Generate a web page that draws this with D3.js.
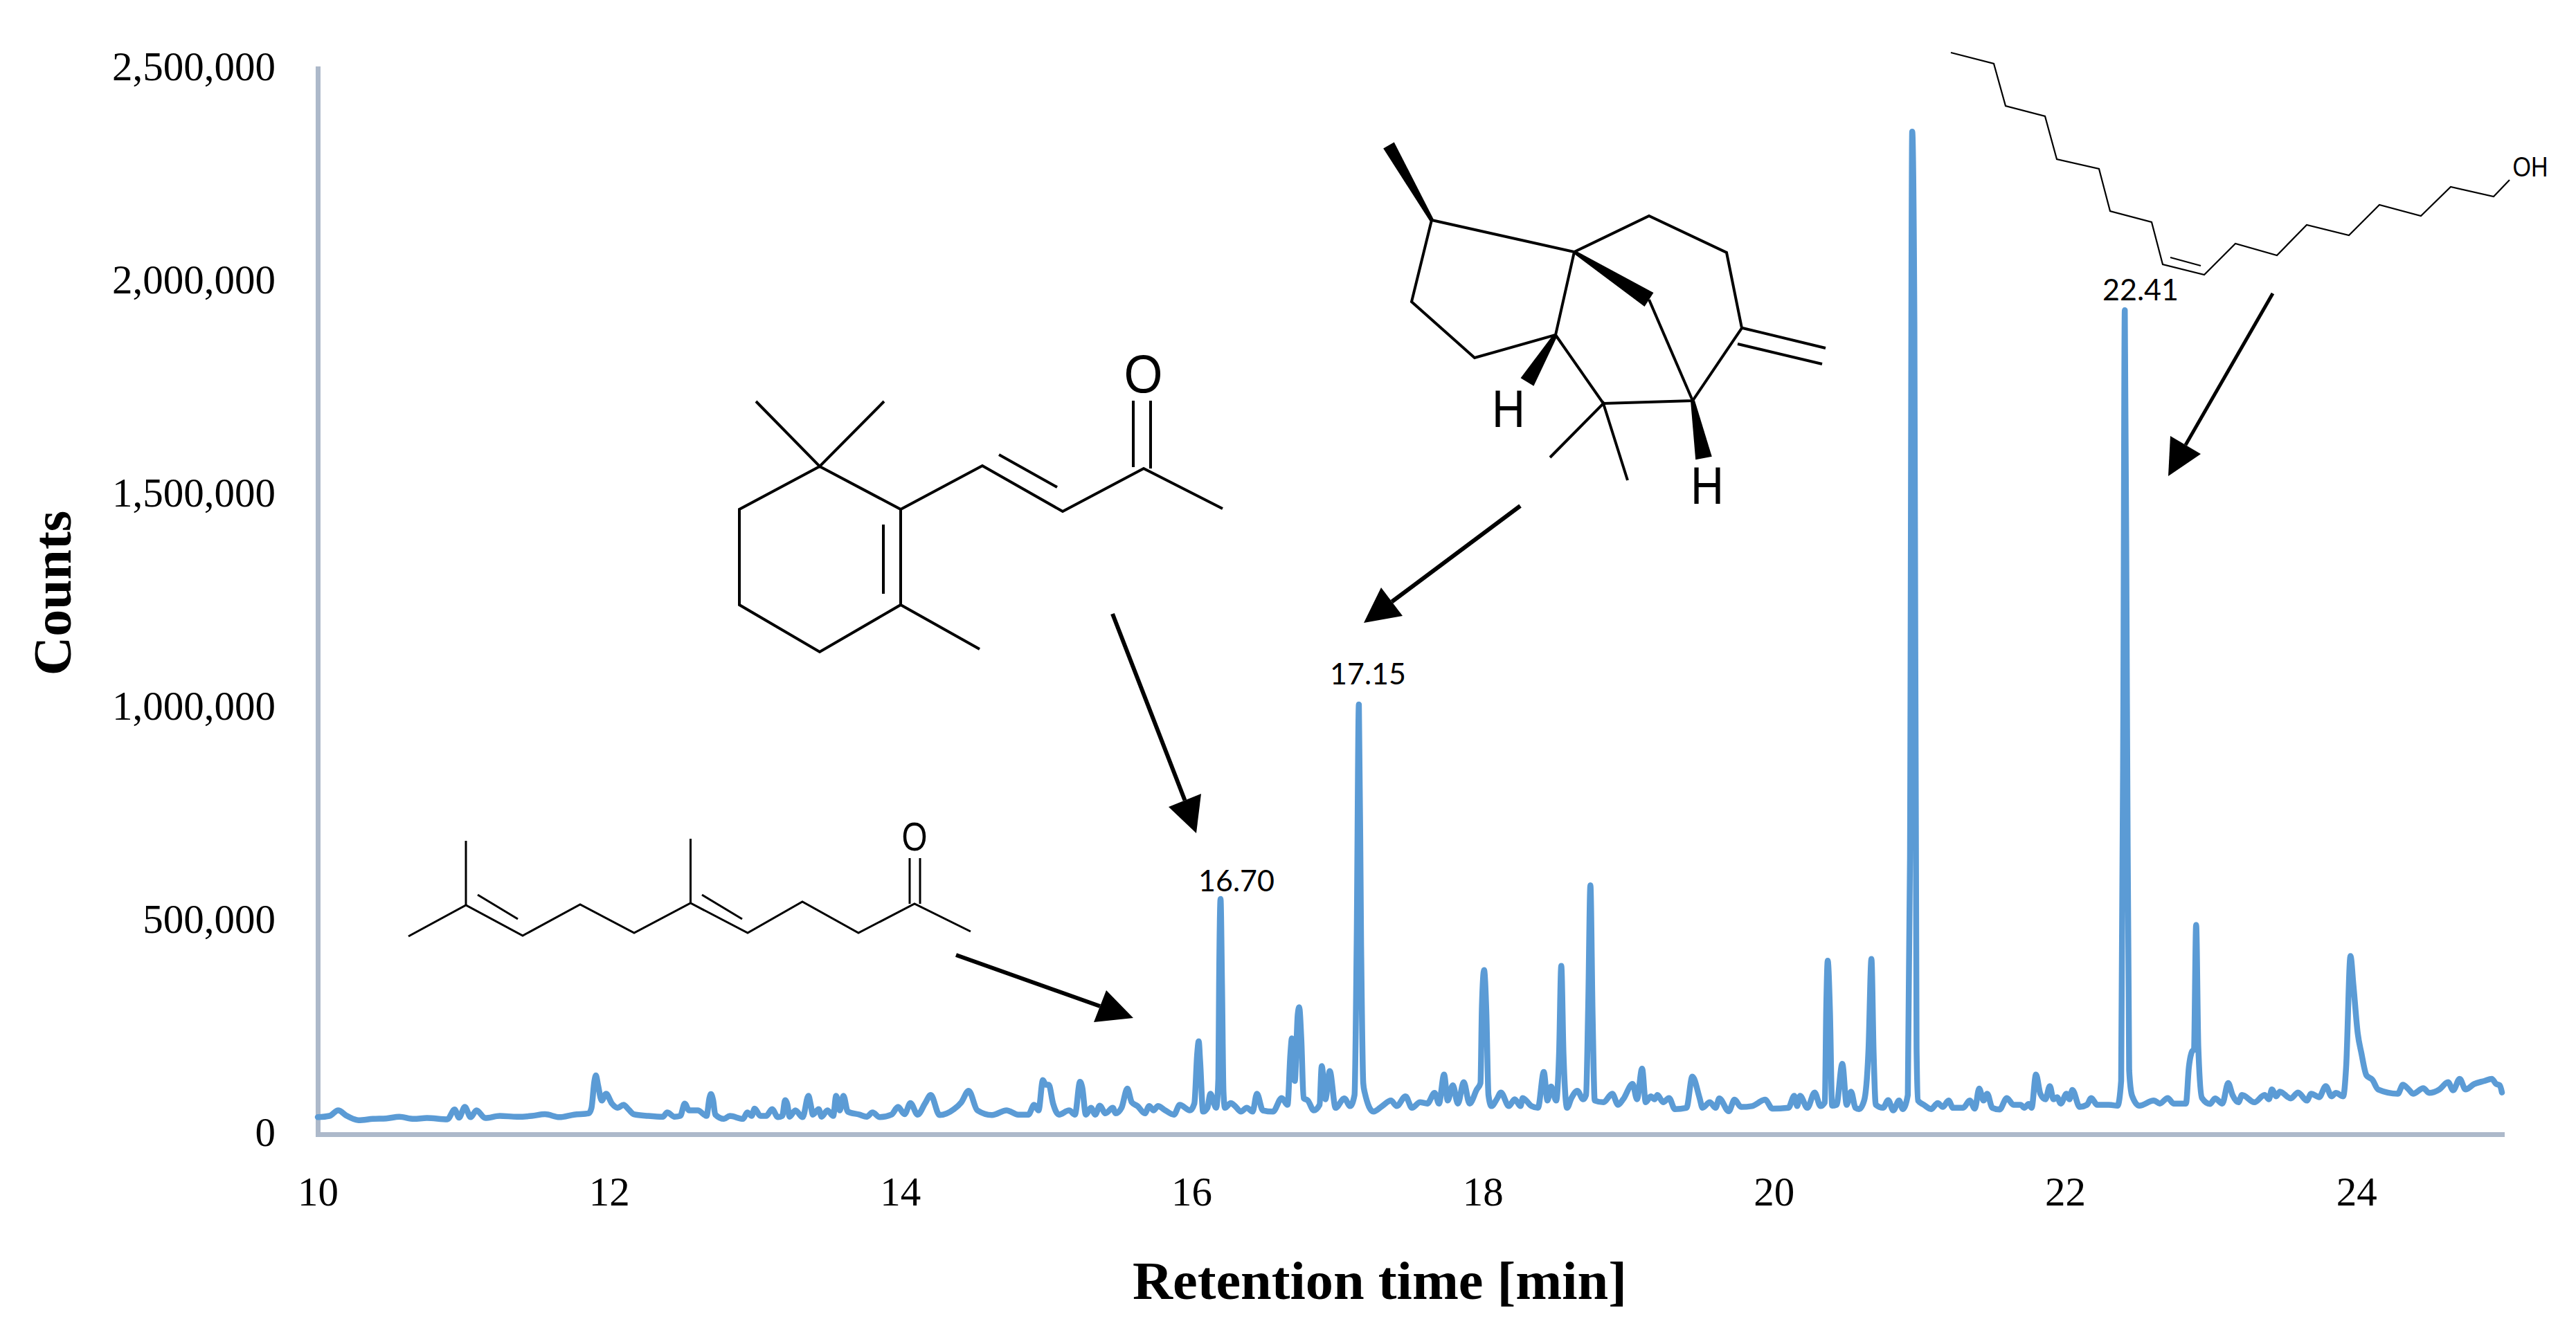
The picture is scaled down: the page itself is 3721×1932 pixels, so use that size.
<!DOCTYPE html>
<html>
<head>
<meta charset="utf-8">
<title>Chromatogram</title>
<script src="https://cdn.jsdelivr.net/npm/d3@7/dist/d3.min.js"></script>
<style>
html,body{margin:0;padding:0;background:#fff}
svg{display:block}
</style>
</head>
<body>
<svg id="chart" width="3721" height="1932"></svg>
<script>
// ---- data: [retention time in min, counts] ----
const chromatogram = [
[10.0,40000],[10.08,43000],[10.14,56000],[10.2,43000],[10.28,33000],[10.38,36000],[10.47,37000],[10.56,41000],[10.66,36000],[10.75,38000],[10.89,35000],
[10.94,58000],[10.97,39000],[11.01,64000],[11.05,40000],[11.09,56000],[11.15,38000],[11.25,43000],[11.37,41000],[11.47,43000],[11.56,47000],[11.66,40000],[11.76,46000],[11.86,49000],[11.88,62000],
[11.9,125000],[11.91,138000],[11.925,115000],[11.95,79000],[11.98,95000],[12.02,72000],[12.06,62000],[12.1,69000],[12.13,60000],[12.17,47000],[12.27,43000],[12.37,41000],[12.4,51000],[12.45,41000],[12.49,43000],
[12.52,72000],[12.55,56000],[12.61,56000],[12.67,43000],[12.69,85000],[12.70,94000],[12.715,80000],[12.73,46000],[12.79,36000],[12.83,43000],[12.92,36000],[12.95,51000],[12.98,43000],[13.0,60000],[13.04,43000],[13.08,43000],
[13.12,59000],[13.16,40000],[13.19,43000],[13.21,80000],[13.225,70000],[13.24,41000],[13.28,56000],[13.33,40000],[13.37,90000],[13.385,70000],[13.4,46000],[13.44,59000],[13.46,41000],[13.5,56000],[13.54,43000],
[13.56,90000],[13.585,56000],[13.61,90000],[13.64,53000],[13.72,46000],[13.77,41000],[13.81,51000],[13.86,40000],[13.94,46000],[13.985,64000],[14.03,47000],[14.07,73000],[14.12,46000],[14.17,72000],[14.21,92000],[14.27,45000],
[14.37,59000],[14.42,75000],[14.47,102000],[14.53,56000],[14.63,45000],[14.73,56000],[14.81,46000],[14.88,46000],[14.92,69000],[14.95,56000],[14.98,127000],[15.0,116000],[15.02,116000],[15.05,72000],[15.09,46000],
[15.16,56000],[15.2,46000],[15.235,123000],[15.25,110000],[15.275,46000],[15.31,62000],[15.34,46000],[15.37,67000],[15.41,49000],[15.46,62000],[15.48,49000],[15.52,62000],[15.56,107000],[15.59,75000],[15.63,66000],
[15.68,49000],[15.71,66000],[15.74,56000],[15.77,66000],[15.82,56000],[15.88,46000],[15.92,69000],[15.99,56000],[16.02,72000],[16.04,190000],[16.05,218000],[16.06,170000],[16.08,53000],[16.11,62000],[16.13,95000],[16.17,62000],
[16.185,130000],[16.19,350000],[16.2,552000],[16.21,350000],[16.22,100000],[16.23,62000],[16.27,73000],[16.3,66000],[16.34,53000],[16.38,62000],[16.42,53000],[16.45,95000],[16.49,56000],[16.56,53000],
[16.62,85000],[16.66,69000],[16.68,190000],[16.69,225000],[16.71,125000],[16.73,280000],[16.74,298000],[16.755,220000],[16.77,85000],[16.8,79000],[16.84,56000],[16.88,69000],[16.895,160000],[16.92,82000],[16.95,148000],[16.99,62000],
[17.05,84000],[17.09,66000],[17.12,92000],[17.135,450000],[17.15,1008000],[17.165,450000],[17.18,120000],[17.19,98000],[17.25,53000],[17.31,66000],[17.37,79000],[17.41,66000],[17.47,89000],[17.515,62000],[17.57,75000],[17.62,72000],
[17.67,97000],[17.7,72000],[17.735,140000],[17.76,79000],[17.795,115000],[17.83,72000],[17.87,122000],[17.91,72000],[17.96,105000],[17.985,120000],[17.995,300000],[18.01,385000],[18.025,290000],[18.04,92000],[18.06,66000],
[18.1,84000],[18.125,98000],[18.18,66000],[18.22,82000],[18.26,66000],[18.275,85000],[18.335,66000],[18.38,62000],[18.42,146000],[18.445,79000],[18.47,112000],[18.505,79000],[18.525,190000],[18.54,395000],[18.555,190000],[18.58,62000],
[18.61,85000],[18.65,102000],[18.69,82000],[18.71,92000],[18.725,300000],[18.74,584000],[18.755,280000],[18.77,79000],[18.83,75000],[18.89,95000],[18.93,69000],[18.965,82000],[19.03,118000],[19.06,82000],[19.095,154000],[19.12,75000],
[19.155,89000],[19.18,82000],[19.2,92000],[19.24,75000],[19.28,85000],[19.32,59000],[19.4,62000],[19.44,135000],[19.49,85000],[19.51,62000],[19.56,75000],[19.6,62000],[19.625,84000],[19.69,54000],[19.73,81000],[19.775,64000],
[19.85,66000],[19.94,81000],[19.99,60000],[20.1,62000],[20.14,90000],[20.16,66000],[20.18,90000],[20.23,62000],[20.28,98000],[20.32,66000],[20.35,75000],[20.36,300000],[20.37,407000],[20.385,290000],[20.4,67000],[20.43,69000],
[20.47,165000],[20.5,69000],[20.53,100000],[20.56,62000],[20.585,59000],[20.62,79000],[20.65,200000],[20.67,411000],[20.685,190000],[20.7,69000],[20.75,62000],[20.785,80000],[20.82,56000],[20.86,79000],[20.885,59000],[20.92,92000],
[20.935,650000],[20.95,2352000],[20.965,1900000],[20.98,200000],[20.99,79000],[21.03,69000],[21.08,59000],[21.125,73000],[21.16,64000],[21.2,79000],[21.23,62000],[21.3,62000],[21.345,79000],[21.38,60000],[21.41,107000],[21.44,79000],
[21.465,95000],[21.5,62000],[21.55,58000],[21.6,85000],[21.645,69000],[21.695,69000],[21.72,62000],[21.75,71000],[21.77,62000],[21.8,140000],[21.83,95000],[21.865,82000],[21.895,113000],[21.92,82000],[21.945,87000],[21.97,72000],
[22.01,95000],[22.03,82000],[22.05,104000],[22.1,64000],[22.15,69000],[22.18,85000],[22.22,69000],[22.3,69000],[22.36,67000],[22.385,125000],[22.4,1000000],[22.41,1933000],[22.425,1000000],[22.44,150000],[22.46,90000],[22.51,67000],
[22.61,79000],[22.65,72000],[22.705,85000],[22.745,72000],[22.83,72000],[22.85,157000],[22.87,193000],[22.885,200000],[22.9,491000],[22.915,203000],[22.94,85000],[22.995,71000],[23.03,84000],[23.08,72000],[23.12,120000],[23.15,92000],
[23.19,75000],[23.215,92000],[23.3,75000],[23.37,92000],[23.4,82000],[23.42,105000],[23.45,89000],[23.475,100000],[23.55,84000],[23.6,98000],[23.66,79000],[23.69,95000],[23.745,87000],[23.79,113000],[23.83,89000],[23.86,97000],
[23.91,89000],[23.93,157000],[23.96,418000],[23.98,350000],[24.01,236000],[24.035,190000],[24.07,138000],[24.11,128000],[24.15,105000],[24.285,95000],[24.32,116000],[24.36,105000],[24.39,95000],[24.46,108000],[24.5,97000],
[24.57,105000],[24.63,122000],[24.665,103000],[24.71,130000],[24.75,105000],[24.81,118000],[24.88,125000],[24.93,130000],[24.96,118000],[24.985,115000],[25.0,98000]
];
const xTicks = [10,12,14,16,18,20,22,24];
const yTicks = [0,500000,1000000,1500000,2000000,2500000];
const xTitle = "Retention time [min]";
const yTitle = "Counts";
const peakLabels = ["16.70","17.15","22.41"];

// ---- layout ----
const svg = d3.select("#chart");
const plotLeft = 459, plotRight = 3614, plotTop = 99, plotBottom = 1639;
const x = d3.scaleLinear().domain([10,25]).range([plotLeft,plotRight]);
const y = d3.scaleLinear().domain([0,2500000]).range([plotBottom,plotTop]);
const AXIS = "#ADB9CA", LINE = "#5B9BD5", SERIF = "'Liberation Serif',serif";

// axes
const gx = svg.append("g").attr("transform",`translate(0,${plotBottom})`)
  .call(d3.axisBottom(x).tickValues(xTicks).tickFormat(d3.format("d")).tickSize(0).tickSizeOuter(0).tickPadding(62));
const gy = svg.append("g").attr("transform",`translate(${plotLeft},0)`)
  .call(d3.axisLeft(y).tickValues(yTicks).tickFormat(d3.format(",")).tickSize(0).tickSizeOuter(0).tickPadding(61));
[gx,gy].forEach(g=>{
  g.select(".domain").attr("stroke",AXIS).attr("stroke-width",7).attr("stroke-linecap","square");
  g.selectAll("text").attr("font-family",SERIF).attr("font-size",59).attr("fill","#000");
});
gx.selectAll("text").attr("dy",0).attr("y",103);
gy.selectAll("text").attr("dy",0).attr("y",16);

// trace
const lineGen = d3.line().curve(d3.curveMonotoneX).x(d=>x(d[0])).y(d=>y(d[1]));
svg.append("path").datum(chromatogram).attr("d",lineGen).attr("fill","none")
  .attr("stroke",LINE).attr("stroke-width",8.5).attr("stroke-linejoin","round").attr("stroke-linecap","round");

// titles
svg.append("text").attr("x",1993).attr("y",1877).attr("text-anchor","middle")
  .attr("font-family",SERIF).attr("font-weight","bold").attr("font-size",78)
  .attr("textLength",714).attr("lengthAdjust","spacingAndGlyphs").text(xTitle);
svg.append("text").attr("transform","translate(102,857) rotate(-90)").attr("text-anchor","middle")
  .attr("font-family",SERIF).attr("font-weight","bold").attr("font-size",78).text(yTitle);

// peak labels
const labelPos = [[1786,1288],[1976,989],[3092,434]];
peakLabels.forEach((t,i)=>svg.append("text").attr("x",labelPos[i][0]).attr("y",labelPos[i][1])
  .attr("text-anchor","middle").attr("font-family","Lato,sans-serif").attr("font-size",43).attr("fill","#000").text(t));

// ---- annotation drawing helpers: structural formulae and arrows ----
const art = svg.append("g");
function bonds(list,w){
  list.forEach(p=>art.append("polyline").attr("points",p.map(q=>q.join(",")).join(" "))
    .attr("fill","none").attr("stroke","#000").attr("stroke-width",w).attr("stroke-linejoin","miter"));
}
function wedge(a,b,w,w0){
  const dx=b[0]-a[0],dy=b[1]-a[1],l=Math.hypot(dx,dy),ux=-dy/l,uy=dx/l;
  art.append("polygon").attr("points",
    `${a[0]+ux*w0/2},${a[1]+uy*w0/2} ${b[0]+ux*w/2},${b[1]+uy*w/2} ${b[0]-ux*w/2},${b[1]-uy*w/2} ${a[0]-ux*w0/2},${a[1]-uy*w0/2}`)
    .attr("fill","#000");
}
function arrow(a,b,h1,h2,w){
  art.append("line").attr("x1",a[0]).attr("y1",a[1]).attr("x2",(h1[0]+h2[0])/2).attr("y2",(h1[1]+h2[1])/2)
    .attr("stroke","#000").attr("stroke-width",w);
  art.append("polygon").attr("points",`${b} ${h1} ${h2}`).attr("fill","#000");
}
function atom(t,cx,base,size,len){
  const n=art.append("text").attr("x",cx).attr("y",base).attr("text-anchor","middle")
    .attr("font-family","'Liberation Sans',sans-serif").attr("font-size",size).attr("fill","#000").text(t);
  if(len) n.attr("textLength",len).attr("lengthAdjust","spacingAndGlyphs");
}

// geranylacetone
bonds([
 [[590,1353],[673,1308],[755,1352],[838,1307],[916,1348],[997.5,1305],[1080,1348],[1159,1303],[1240,1348],[1321,1306],[1402,1346]],
 [[673,1215],[673,1308]],[[997.5,1212],[997.5,1305]],
 [[690,1293],[748,1328]],[[1014,1293],[1072,1328]],
 [[1314,1240],[1314,1306]],[[1329,1240],[1329,1306]]
],3);
atom("O",1321,1229,58,37);
arrow([1381,1380],[1637,1471],[1598,1431],[1580,1477],6);

// ionone
bonds([
 [[1184,674],[1068,736],[1068,874],[1184,942],[1301,874],[1301,736],[1184,674]],
 [[1092,580],[1184,674],[1277,580]],
 [[1276,758],[1276,858]],
 [[1301,874],[1415,938]],
 [[1301,736],[1419,673],[1535,739],[1652,677],[1766,735]],
 [[1443,657],[1527,704]],
 [[1637,579],[1637,675]],[[1662,579],[1662,677]]
],4);
atom("O",1651.5,567,78,56);
arrow([1607,887],[1728,1204],[1688,1166],[1735,1147],6);

// tricyclic sesquiterpene
bonds([
 [[2068,318],[2039,436],[2130,517],[2247,484],[2274,364],[2068,318]],
 [[2274,364],[2382,312],[2494,365],[2516,474],[2445,579],[2316,583],[2247,484]],
 [[2382,433],[2445,579]],
 [[2239,661],[2316,583],[2351,694]],
 [[2517,474],[2637,503]],[[2510,497],[2632,526]]
],4);
wedge([2068,318],[2006,210],18,6);
wedge([2274,364],[2382,433],24,5);
wedge([2247,484],[2206,552],22,6);
wedge([2445,579],[2461,662],24,6);
atom("H",2179,617,76,48);
atom("H",2466,728,76,48);
arrow([2196,731],[1970,900],[1995,849],[2026,890],6);

// long-chain alkenol
bonds([
 [[2818,76],[2880,92],[2897,153],[2954,168],[2971,230],[3032,244],[3048,305],[3108,321],[3124,382],[3184,397],[3229,352],[3289,369],[3332,325],[3393,340],[3437,296],[3497,312],[3540,270],[3602,284],[3625,260]],
 [[3135,372],[3179,384]]
],2.2);
atom("OH",3655,255,40,51);
arrow([3283,424],[3132,688],[3135,630],[3179,656],5);
</script>
</body>
</html>
